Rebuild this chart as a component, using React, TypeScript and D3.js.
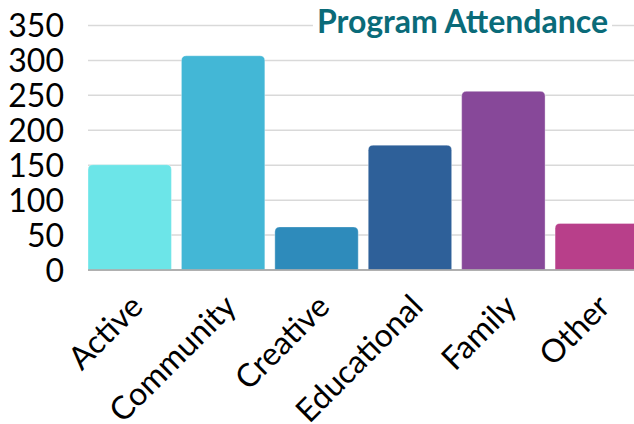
import React, { useEffect, useRef } from 'react';
import * as d3 from 'd3';

const categories = ['Active', 'Community', 'Creative', 'Educational', 'Family', 'Other'];
const attendance = [150, 306, 61, 178, 255, 66];
const barColors = ['#6ce5e8', '#43b7d6', '#2e8bbb', '#2e6099', '#874899', '#b83f8a'];
const yTicks = [0, 50, 100, 150, 200, 250, 300, 350];
const title = 'Program Attendance';

const width = 634;
const height = 424;
const margin = { top: 25, right: -4.5, bottom: 154.5, left: 88 };

const topRounded = (x: number, y: number, w: number, h: number, r: number) => {
  const rr = Math.min(r, h, w / 2);
  return `M${x},${y + h}V${y + rr}Q${x},${y} ${x + rr},${y}H${x + w - rr}Q${x + w},${y} ${x + w},${y + rr}V${y + h}Z`;
};

const App = () => {
  const chart = useRef<SVGSVGElement>(null);

  useEffect(() => {
    const svg = d3.select(chart.current);
    svg.selectAll('*').remove();

    const x = d3.scaleBand()
      .domain(categories)
      .range([margin.left, width - margin.right])
      .paddingInner(0.107)
      .paddingOuter(0);

    const y = d3.scaleLinear()
      .domain([0, 350])
      .range([height - margin.bottom, margin.top]);

    // gridlines + y labels
    svg.append('g')
      .attr('transform', `translate(${margin.left},0)`)
      .call(d3.axisLeft(y).tickValues(yTicks).tickSize(0).tickPadding(24))
      .call(g => g.select('.domain').remove())
      .call(g => g.selectAll('.tick text')
        .attr('font-family', 'Lato, sans-serif')
        .attr('font-size', 32)
        .attr('fill', '#000')
        .attr('dy', '0.36em'))
      .call(g => g.selectAll('.tick line').clone()
        .attr('stroke', '#d9d9d9')
        .attr('stroke-width', 1.5)
        .attr('x2', width - margin.left));

    // bars
    svg.append('g')
      .selectAll('path')
      .data(categories)
      .join('path')
      .attr('d', (d, i) => topRounded(x(d)!, y(attendance[i]), x.bandwidth(), y(0) - y(attendance[i]), 5))
      .attr('fill', (d, i) => barColors[i])
      .attr('stroke', '#ffffff')
      .attr('stroke-opacity', 0.35)
      .attr('stroke-width', 1);

    // baseline
    svg.append('line')
      .attr('x1', margin.left)
      .attr('x2', width)
      .attr('y1', y(0) + 0.5)
      .attr('y2', y(0) + 0.5)
      .attr('stroke', '#7f7f7f')
      .attr('stroke-width', 1);

    // x labels
    svg.append('g')
      .selectAll('text')
      .data(categories)
      .join('text')
      .attr('transform', d => `translate(${x(d)! + x.bandwidth() / 2 + 15},${y(0) + 39}) rotate(-45)`)
      .attr('text-anchor', 'end')
      .attr('font-family', 'Lato, sans-serif')
      .attr('font-size', 32)
      .attr('fill', '#000')
      .text(d => d);

    // title
    const t = svg.append('text')
      .attr('x', 608)
      .attr('y', 33)
      .attr('text-anchor', 'end')
      .attr('font-family', 'Lato, sans-serif')
      .attr('font-weight', 'bold')
      .attr('font-size', 32)
      .attr('fill', '#0a6b79')
      .text(title);
    const bb = (t.node() as SVGTextElement).getBBox();
    svg.insert('rect', () => t.node())
      .attr('x', bb.x - 4)
      .attr('y', bb.y)
      .attr('width', bb.width + 8)
      .attr('height', bb.height)
      .attr('fill', '#fff');
  }, []);

  return (
    <svg
      ref={chart}
      width={width}
      height={height}
      style={{ position: 'absolute', left: 0, top: 0, background: '#fff' }}
    />
  );
};

export default App;
